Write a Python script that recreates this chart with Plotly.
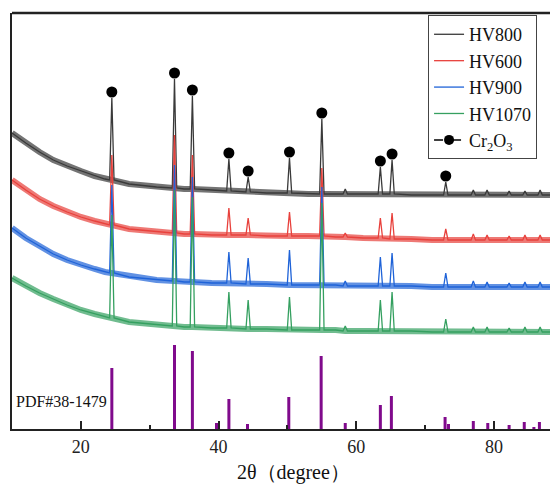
import plotly.graph_objects as go

# ---------------- data (arbitrary intensity units) ----------------
two_theta_base = [10, 12, 14, 16, 18, 20, 22, 23.5, 27, 31, 35, 39, 47, 53, 57, 61, 68, 71, 75, 81, 87.5, 89.5]
peak_pos = [24.5, 33.6, 36.2, 41.5, 44.3, 50.3, 55.0, 58.4, 63.5, 65.2, 73.0, 77.0, 79.0, 82.2, 84.5, 86.7]

hv800_base = [296, 286, 277, 269, 263, 258, 253, 250, 245, 242, 240, 239, 236, 235, 235, 235, 234, 234, 234, 234, 234, 234]
hv800_peak_base = [249, 241, 240, 238, 237, 236, 235, 235, 235, 235, 234, 234, 234, 234, 234, 234]
hv800_peak_top = [331, 350, 333, 270, 252, 271, 310, 240, 262, 269, 247, 239, 239, 238, 238, 239]

hv600_base = [249, 239, 230, 223, 217, 212, 208, 205, 200, 197, 195, 194, 193, 193, 192, 191, 190, 189, 189, 189, 189, 189]
hv600_peak_base = [204, 196, 195, 194, 194, 193, 193, 192, 191, 190, 189, 189, 189, 189, 189, 189]
hv600_peak_top = [274, 294, 274, 221, 211, 217, 261, 196, 211, 216, 200, 195, 194, 193, 194, 194]

hv900_base = [201, 191, 183, 175, 169, 164, 160, 157, 152, 149, 147, 146, 145, 144, 144, 143, 143, 142, 142, 142, 142, 142]
hv900_peak_base = [156, 148, 147, 146, 145, 144, 144, 143, 143, 143, 142, 142, 142, 142, 142, 142]
hv900_peak_top = [244, 264, 252, 177, 171, 179, 242, 148, 172, 176, 156, 148, 147, 146, 147, 147]

hv1070_base = [151, 143, 136, 130, 124, 119, 115, 112, 107, 104, 102, 101, 100, 99, 99, 98, 98, 97, 97, 97, 97, 97]
hv1070_peak_base = [111, 103, 102, 101, 100, 99, 99, 98, 98, 98, 97, 97, 97, 97, 97, 97]
hv1070_peak_top = [214, 239, 232, 137, 129, 132, 226, 103, 129, 137, 110, 102, 102, 101, 102, 102]

# Cr2O3 reflections marked with dots (on the HV800 pattern)
dot_pos = [24.5, 33.6, 36.2, 41.5, 44.3, 50.3, 55.0, 63.5, 65.2, 73.0]

# PDF#38-1479 stick pattern
pdf_pos = [24.5, 33.6, 36.2, 39.7, 41.5, 44.2, 50.2, 54.9, 58.4, 63.5, 65.1, 72.9, 73.4, 77.0, 79.1, 82.2, 84.4, 85.8, 86.6]
pdf_int = [61, 84, 78, 6, 30, 5, 32, 73, 6, 24, 33, 12, 5, 8, 6, 4, 7, 2, 7]

series = [
    ("HV800", "#3a3a3a", hv800_base, hv800_peak_base, hv800_peak_top),
    ("HV600", "#e8413c", hv600_base, hv600_peak_base, hv600_peak_top),
    ("HV900", "#1f63d8", hv900_base, hv900_peak_base, hv900_peak_top),
    ("HV1070", "#35a060", hv1070_base, hv1070_peak_base, hv1070_peak_top),
]

SERIF = "Liberation Serif"
HALF = 0.32      # half width of a peak foot (degrees)
DOT_OFFSET = 6   # dot sits just above the HV800 peak

fig = go.Figure()

for name, color, base, pk_base, pk_top in series:
    band = sorted(list(zip(two_theta_base, base)) + list(zip(peak_pos, pk_base)))
    fig.add_trace(go.Scatter(
        x=[p[0] for p in band], y=[p[1] for p in band], mode="lines",
        line=dict(color=color, width=6), opacity=0.7,
        showlegend=False, hoverinfo="skip"))
    pts = list(zip(two_theta_base, base))
    for c, b, t in zip(peak_pos, pk_base, pk_top):
        pts += [(c - HALF, b), (c, t), (c + HALF, b)]
    pts.sort()
    fig.add_trace(go.Scatter(
        x=[p[0] for p in pts], y=[p[1] for p in pts], mode="lines",
        name=name, line=dict(color=color, width=1.3), legendgroup=name))

# dots above HV800 peaks
top_lookup = dict(zip(peak_pos, hv800_peak_top))
fig.add_trace(go.Scatter(
    x=dot_pos, y=[top_lookup[p] + DOT_OFFSET for p in dot_pos], mode="markers",
    marker=dict(color="black", size=11), showlegend=False))
# legend entry for Cr2O3
fig.add_trace(go.Scatter(
    x=[None], y=[None], mode="lines+markers", name="Cr<sub>2</sub>O<sub>3</sub>",
    line=dict(color="black", width=1.5, dash="dash"),
    marker=dict(color="black", size=10), legendgroup="cr2o3"))

# PDF sticks
sx, sy = [], []
for p, h in zip(pdf_pos, pdf_int):
    sx += [p, p, None]
    sy += [0, h, None]
fig.add_trace(go.Scatter(x=sx, y=sy, mode="lines", line=dict(color="#800a8c", width=3),
                         showlegend=False, hoverinfo="skip"))

fig.add_annotation(text="PDF#38-1479", xref="paper", x=0.004, xanchor="left",
                   yref="y", y=28, yanchor="middle", showarrow=False,
                   font=dict(family=SERIF, size=16, color="#111"))
fig.add_annotation(text="2θ（degree）", xref="paper", x=0.515, xanchor="center",
                   yref="paper", y=-0.104, yanchor="middle", showarrow=False,
                   font=dict(family=SERIF, size=20, color="#111"))

# top frame line
fig.add_shape(type="line", xref="paper", yref="paper", x0=0, x1=1, y0=1, y1=1,
              line=dict(color="#222", width=2.5))

# page body has an 8px offset, so the figure is 8px smaller and margins shifted
fig.update_layout(
    width=550, height=478,
    margin=dict(l=4, r=0, t=5, b=57),
    paper_bgcolor="white", plot_bgcolor="white",
    font=dict(family=SERIF, color="#111"),
    xaxis=dict(range=[10, 89.3], showgrid=False, zeroline=False,
               showline=True, linecolor="#222", linewidth=2,
               tick0=0, dtick=20, ticks="inside", ticklen=8, tickwidth=2, tickcolor="#222",
               minor=dict(dtick=10, ticks="inside", ticklen=4, tickwidth=2, tickcolor="#222"),
               tickfont=dict(family=SERIF, size=18, color="#222"), ticklabelstandoff=0),
    yaxis=dict(range=[0, 416], showgrid=False, zeroline=False, showticklabels=False,
               showline=True, linecolor="#222", linewidth=2, ticks=""),
    legend=dict(x=0.762, y=0.995, xanchor="left", yanchor="top",
                bgcolor="white", bordercolor="#444", borderwidth=1,
                font=dict(family=SERIF, size=18, color="#111"),
                traceorder="grouped", tracegroupgap=0),
    showlegend=True,
)

fig.write_html("out.html")
